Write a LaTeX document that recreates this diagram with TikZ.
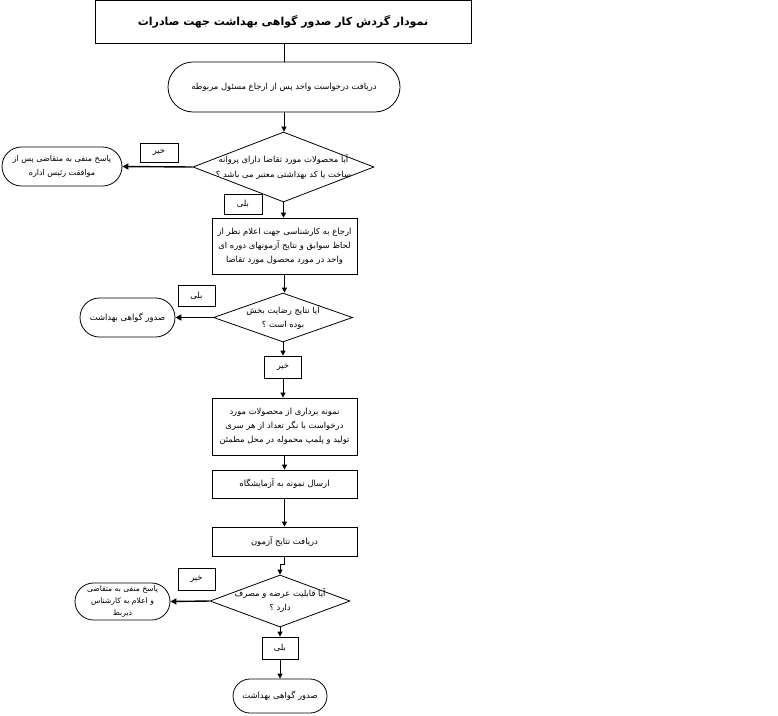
\documentclass[tikz,border=0pt]{standalone}
\usepackage{fontspec}
\newfontfamily\arabicfont[Script=Arabic]{DejaVu Sans}
\TeXXeTstate=1
\usetikzlibrary{shapes.geometric,shapes.misc,arrows.meta}
\newcommand{\rl}[1]{\beginR #1\endR}
\begin{document}
\begin{tikzpicture}[x=1pt,y=-1pt,
  every node/.style={font=\arabicfont\fontsize{8.4}{14}\selectfont, inner sep=0pt, align=center},
  titlebox/.style={draw, line width=1pt, minimum width=376pt, minimum height=43pt, font=\arabicfont\bfseries\fontsize{11}{13}\selectfont},
  term/.style={draw, line width=0.8pt, rounded rectangle},
  proc/.style={draw, line width=0.8pt, rectangle},
  lbl/.style={draw, line width=0.8pt, rectangle},
  dia/.style={draw, line width=0.8pt, diamond},
  conn/.style={line width=0.8pt, -{Triangle[width=5pt,length=5pt]}},
  sideconn/.style={line width=1.4pt, -{Triangle[width=6pt,length=6pt]}}
]
\useasboundingbox (0,0) rectangle (778,715);

\node[titlebox] (title) at (283,21.5) {\rl{نمودار گردش کار صدور گواهی بهداشت جهت صادرات}};

\node[term, minimum width=232pt, minimum height=50pt] (t1) at (284,87) {\rl{دریافت درخواست واحد پس از ارجاع مسئول مربوطه}};

\node[dia, minimum width=181pt, minimum height=70pt] (d1) at (283.5,167) {};
\node[font=\arabicfont\fontsize{8.4}{15}\selectfont] (d1t) at (d1.center) {\rl{آیا محصولات مورد تقاضا دارای پروانه}\\\rl{ساخت یا کد بهداشتی معتبر می باشد ؟}};

\node[term, minimum width=120pt, minimum height=39pt, font=\arabicfont\fontsize{8}{14}\selectfont] (tn1) at (62,166.5) {\rl{پاسخ منفی به متقاضی پس از}\\\rl{موافقت رئیس اداره}};
\node[lbl, minimum width=38pt, minimum height=19pt] (lk1) at (159,152.5) {\rl{خیر}};
\node[lbl, minimum width=38pt, minimum height=20pt] (lb1) at (243,204) {\rl{بلی}};

\node[proc, minimum width=145pt, minimum height=56pt] (p2) at (284.5,246) {\rl{ارجاع به کارشناسی جهت اعلام نظر از}\\\rl{لحاظ سوابق و نتایج آزمونهای دوره ای}\\\rl{واحد در مورد محصول مورد تقاضا}};

\node[dia, minimum width=139pt, minimum height=49pt] (d2) at (283,317.5) {};
\node (d2t) at (d2.center) {\rl{آیا نتایج رضایت بخش}\\\rl{بوده است ؟}};

\node[term, minimum width=95pt, minimum height=39pt] (t2) at (127.5,317.5) {\rl{صدور گواهی بهداشت}};
\node[lbl, minimum width=37pt, minimum height=21pt] (lb2) at (196.5,295.5) {\rl{بلی}};
\node[lbl, minimum width=37pt, minimum height=22pt] (lk2) at (283,367) {\rl{خیر}};

\node[proc, minimum width=145pt, minimum height=57pt] (p3) at (284.5,426.5) {\rl{نمونه برداری از محصولات مورد}\\\rl{درخواست با نگر تعداد از هر سری}\\\rl{تولید و پلمپ محموله در محل مطمئن}};
\node[proc, minimum width=145pt, minimum height=28pt] (p4) at (284.5,484) {\rl{ارسال نمونه به آزمایشگاه}};
\node[proc, minimum width=145pt, minimum height=29pt] (p5) at (284.5,541.5) {\rl{دریافت نتایج آزمون}};

\node[dia, minimum width=140pt, minimum height=52pt] (d3) at (280,601) {};
\node (d3t) at (d3.center) {\rl{آیا قابلیت عرضه و مصرف}\\\rl{دارد ؟}};

\node[term, minimum width=95pt, minimum height=37pt, font=\arabicfont\fontsize{7.6}{12}\selectfont] (t3) at (122.5,601.5) {\rl{پاسخ منفی به متقاضی}\\\rl{و اعلام به کارشناس}\\\rl{ذیربط}};
\node[lbl, minimum width=37pt, minimum height=22pt] (lk3) at (196.5,579) {\rl{خیر}};
\node[lbl, minimum width=36pt, minimum height=22pt] (lb3) at (280,648) {\rl{بلی}};

\node[term, minimum width=94pt, minimum height=34pt] (t4) at (280,696) {\rl{صدور گواهی بهداشت}};

% connectors
\draw[line width=0.8pt] (title.south -| t1.north) -- (t1.north);
\draw[conn] (t1.south) -- (t1.south |- d1.north);
\draw[sideconn] (d1.west) -- (tn1.east);
\draw[conn] (d1.south) -- (d1.south |- p2.north);
\draw[conn] (p2.south) -- (p2.south |- d2.north);
\draw[sideconn] (d2.west) -- (t2.east);
\draw[conn] (d2.south) -- (lk2.north);
\draw[conn] (lk2.south) -- (lk2.south |- p3.north);
\draw[conn] (p3.south) -- (p4.north);
\draw[conn] (p4.south) -- (p5.north);
\draw[conn] (p5.south) -- ++(0,8) -| (d3.north);
\draw[sideconn] (d3.west) -- (t3.east);
\draw[conn] (d3.south) -- (lb3.north);
\draw[conn] (lb3.south) -- (t4.north);
\end{tikzpicture}
\end{document}
